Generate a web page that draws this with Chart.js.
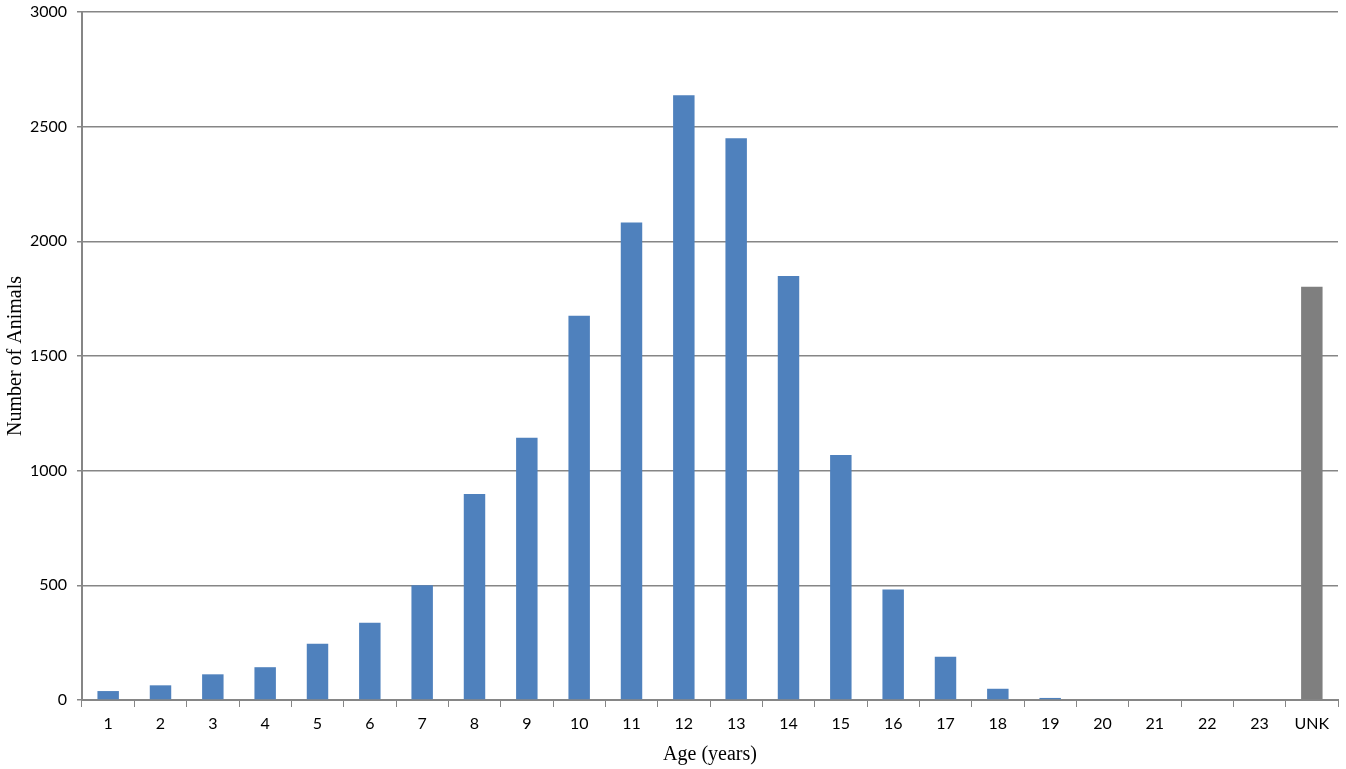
<!DOCTYPE html>
<html>
<head>
<meta charset="utf-8">
<script src="https://cdn.jsdelivr.net/npm/chart.js@4/dist/chart.umd.min.js"></script>
<style>
  html, body { margin: 0; padding: 0; background: #fff; }
  #wrap { width: 1346px; height: 769px; position: relative; }
</style>
</head>
<body>
<div id="wrap"><canvas id="c" width="1346" height="769"></canvas></div>
<script>
const categories = ["1","2","3","4","5","6","7","8","9","10","11","12","13","14","15","16","17","18","19","20","21","22","23","UNK"];
const animalCounts = [39, 64, 112, 143, 245, 337, 500, 898, 1144, 1675, 2082, 2637, 2450, 1849, 1068, 482, 189, 49, 9, 3, 0, 0, 0, 1802];
const yTicks = [0, 500, 1000, 1500, 2000, 2500, 3000];
const yMax = 3000;

const barColors = categories.map(c => c === "UNK" ? "#7F7F7F" : "#4F81BD");
const tickFont = { family: "Lato, 'Open Sans', sans-serif", size: 16 };
const titleFont = { family: "'Liberation Serif', 'DejaVu Serif', serif", size: 20 };

new Chart(document.getElementById('c'), {
  type: 'bar',
  data: {
    labels: categories,
    datasets: [{
      data: animalCounts,
      backgroundColor: barColors,
      borderWidth: 0,
      categoryPercentage: 1.0,
      barPercentage: 0.41
    }]
  },
  options: {
    responsive: false,
    animation: false,
    layout: { padding: { left: 4, right: 8, top: 12, bottom: 2 } },
    plugins: { legend: { display: false }, tooltip: { enabled: false } },
    scales: {
      x: {
        offset: true,
        grid: { display: true, offset: true, drawOnChartArea: false, drawTicks: true, tickLength: 7, color: '#868686', lineWidth: 1 },
        border: { display: true, color: '#868686', width: 2 },
        ticks: { color: '#000', font: tickFont, padding: 7, maxRotation: 0, autoSkip: false },
        title: { display: true, text: 'Age (years)', color: '#000', font: titleFont, padding: { top: 0, bottom: 0 } },
        afterFit: s => { s.height = 67; s.paddingLeft = 0; s.paddingRight = 0; }
      },
      y: {
        min: 0,
        max: yMax,
        afterBuildTicks: s => { s.ticks = yTicks.map(v => ({ value: v })); },
        grid: { color: '#868686', lineWidth: 1.5, drawTicks: true, tickLength: 5 },
        border: { display: true, color: '#868686', width: 2 },
        ticks: { color: '#000', font: tickFont, padding: 10, callback: v => String(v) },
        title: { display: true, text: 'Number of Animals', color: '#000', font: titleFont, padding: { top: 0, bottom: 2 } },
        afterFit: s => { s.width = 78; s.paddingTop = 0; s.paddingBottom = 0; }
      }
    }
  }
});
</script>
</body>
</html>
